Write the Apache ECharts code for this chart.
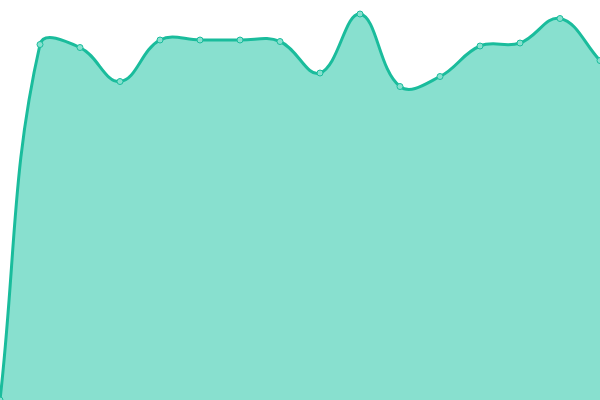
<!DOCTYPE html>
<html>
<head>
<meta charset="utf-8">
<script src="https://cdn.jsdelivr.net/npm/echarts@6/dist/echarts.min.js"></script>
<style>html,body{margin:0;padding:0;background:#fff;}#c{width:600px;height:400px;}</style>
</head>
<body>
<div id="c"></div>
<script>
const categories = ['1','2','3','4','5','6','7','8','9','10','11','12','13','14','15','16'];
const values = [0, 355.5, 352.5, 318.5, 360, 360, 360, 358.5, 327, 386, 313.5, 323.5, 354, 357, 381.5, 339.5];

const LINE = '#1abc9c';
const FILL = '#88e0cf';
const TENSION = 0.4;

function splinePath(pts, area) {
  const n = pts.length;
  const cps = pts.map(function (p, i) {
    const prev = pts[i - 1] || p;
    const next = pts[i + 1] || p;
    const d01 = Math.hypot(p[0] - prev[0], p[1] - prev[1]);
    const d12 = Math.hypot(next[0] - p[0], next[1] - p[1]);
    const tot = d01 + d12 || 1;
    const fa = TENSION * d01 / tot;
    const fb = TENSION * d12 / tot;
    const clampX = function (v) { return Math.max(area.x, Math.min(area.x + area.width, v)); };
    const clampY = function (v) { return Math.max(area.y, Math.min(area.y + area.height, v)); };
    return {
      prev: [clampX(p[0] - fa * (next[0] - prev[0])), clampY(p[1] - fa * (next[1] - prev[1]))],
      next: [clampX(p[0] + fb * (next[0] - prev[0])), clampY(p[1] + fb * (next[1] - prev[1]))]
    };
  });
  let d = 'M' + pts[0][0] + ' ' + pts[0][1];
  for (let i = 1; i < n; i++) {
    const a = cps[i - 1].next, b = cps[i].prev;
    d += ' C' + a[0] + ' ' + a[1] + ' ' + b[0] + ' ' + b[1] + ' ' + pts[i][0] + ' ' + pts[i][1];
  }
  return d;
}

const chart = echarts.init(document.getElementById('c'));
chart.setOption({
  animation: false,
  grid: {left: 0, right: 0, top: 0, bottom: 0},
  xAxis: {type: 'category', data: categories, boundaryGap: false, show: false},
  yAxis: {type: 'value', min: 0, max: 400, show: false},
  series: [{
    type: 'custom',
    data: [[0, 0]],
    encode: {x: 0, y: 1},
    z: 1,
    renderItem: function (params, api) {
      const pts = values.map(function (v, i) { return api.coord([i, v]); });
      const area = params.coordSys;
      const curve = splinePath(pts, area);
      const base = api.coord([0, 0])[1];
      const fillPath = curve + ' L' + pts[pts.length - 1][0] + ' ' + base + ' L' + pts[0][0] + ' ' + base + ' Z';
      return {
        type: 'group',
        children: [
          {type: 'path', shape: {pathData: fillPath}, style: {fill: FILL, stroke: null}},
          {type: 'path', shape: {pathData: curve}, style: {fill: null, stroke: LINE, lineWidth: 3}}
        ]
      };
    }
  }, {
    type: 'line',
    data: values,
    z: 3,
    symbol: 'circle',
    symbolSize: 6,
    showAllSymbol: true,
    lineStyle: {width: 0, opacity: 0},
    itemStyle: {color: FILL, borderColor: LINE, borderWidth: 1}
  }]
});
</script>
</body>
</html>
